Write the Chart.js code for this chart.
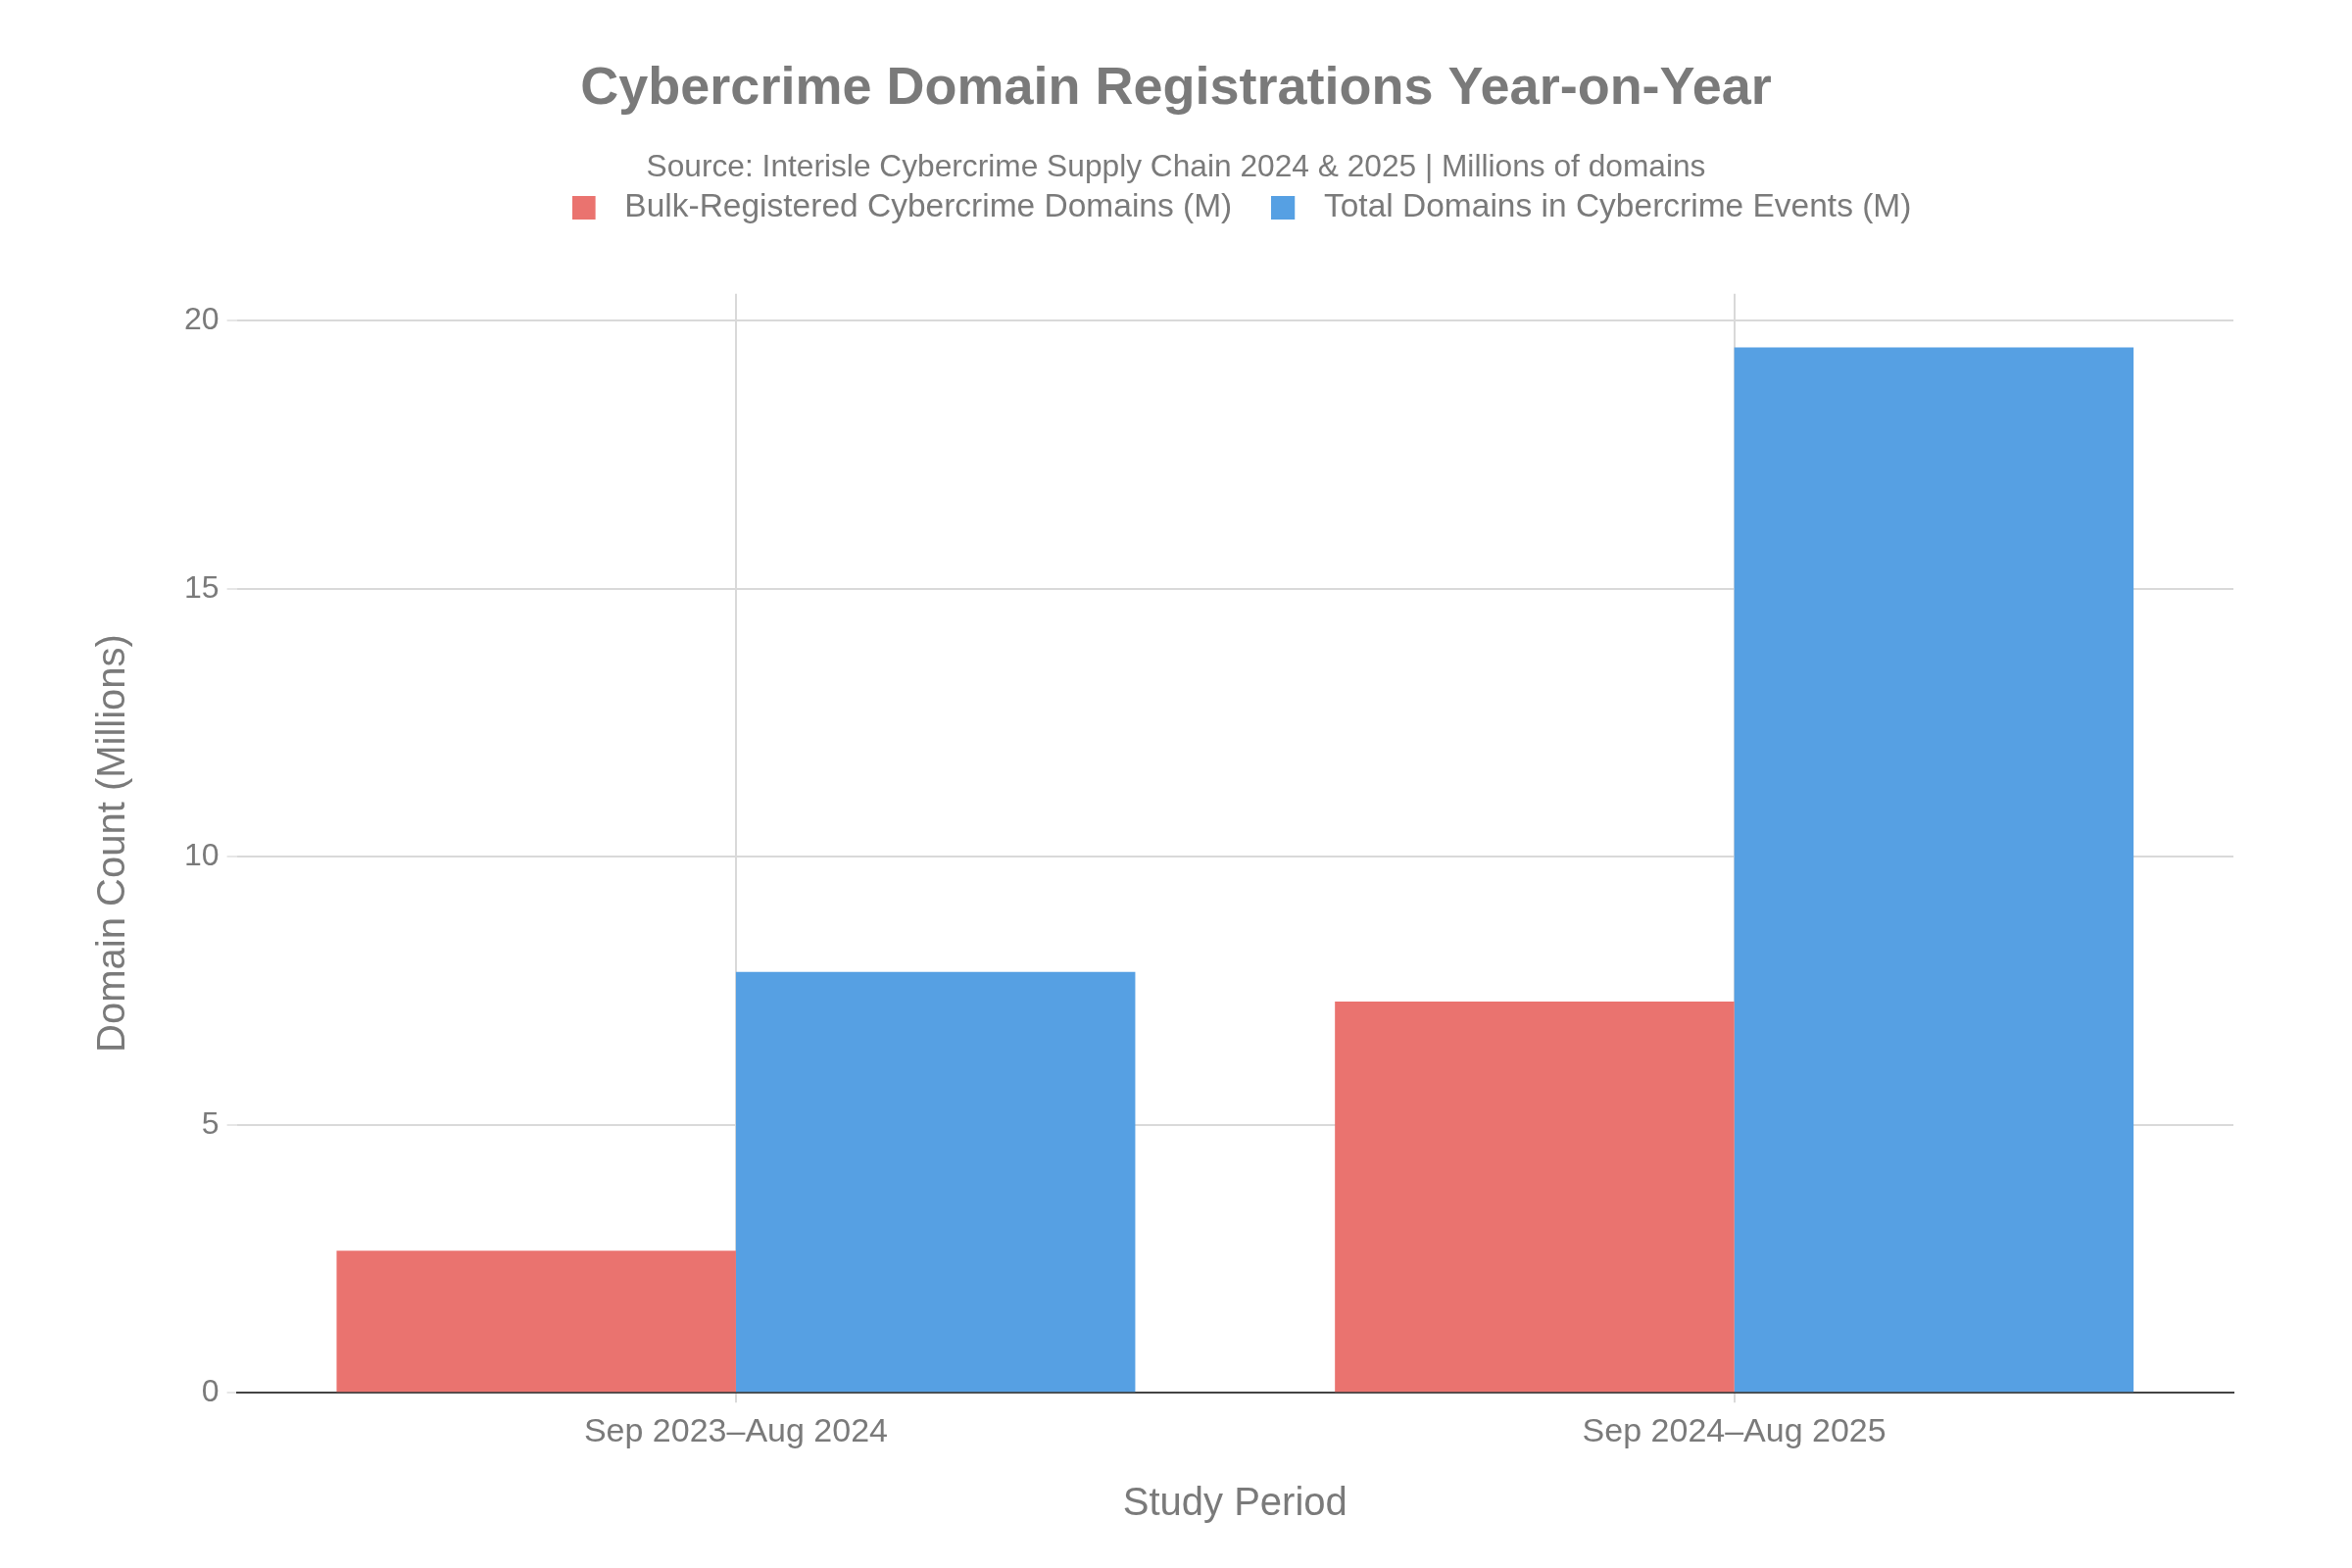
<!DOCTYPE html>
<html>
<head>
<meta charset="utf-8">
<title>Cybercrime Domain Registrations Year-on-Year</title>
<script src="https://cdn.jsdelivr.net/npm/chart.js@4"></script>
<style>
    html, body { margin: 0; padding: 0; background: #ffffff; }
    #wrap { width: 2400px; height: 1600px; }
</style>
</head>
<body>
<div id="wrap"><canvas id="domainChart" width="2400" height="1600"></canvas></div>
<script>
// Study periods (categories)
const periods = ['Sep 2023\u2013Aug 2024', 'Sep 2024\u2013Aug 2025'];
// Values in millions of domains
const bulkRegistered = [2.65, 7.3];
const totalDomains = [7.85, 19.5];
const seriesLabels = ['Bulk-Registered Cybercrime Domains (M)', 'Total Domains in Cybercrime Events (M)'];
const seriesColors = ['#EA736F', '#56A0E3'];
const yTicks = [0, 5, 10, 15, 20];

const FONT = "'Liberation Sans', Arial, sans-serif";
const TEXT = '#7a7a7a';

// legend marker: 24px square on the left of a wider transparent slot
function legendMark(color) {
    const c = document.createElement('canvas');
    c.width = 37;
    c.height = 24;
    const g = c.getContext('2d');
    g.fillStyle = color;
    g.fillRect(0, 0, 24, 24);
    return c;
}
const legendMarks = seriesColors.map(legendMark);

// extra room under the legend, then re-centre the header blocks
const headerLayout = {
    id: 'headerLayout',
    beforeInit(chart) {
        const fit = chart.legend.fit;
        chart.legend.fit = function () {
            fit.call(this);
            this.height += 61.5;
        };
    },
    afterLayout(chart) {
        chart.boxes.forEach(box => {
            if (box === chart.legend) {
                const w = box.right - box.left;
                box.left = 1267 - w / 2;
                box.right = 1267 + w / 2;
            } else if (box.position === 'top' && box.options && box.options.text !== undefined && !box.axis) {
                // title and subtitle centred on the page
                box.left = 0;
                box.right = chart.width;
            }
        });
    }
};

new Chart(document.getElementById('domainChart').getContext('2d'), {
    type: 'bar',
    data: {
        labels: periods,
        datasets: [
            {
                label: seriesLabels[0],
                data: bulkRegistered,
                backgroundColor: seriesColors[0],
                categoryPercentage: 0.8,
                barPercentage: 1.0
            },
            {
                label: seriesLabels[1],
                data: totalDomains,
                backgroundColor: seriesColors[1],
                categoryPercentage: 0.8,
                barPercentage: 1.0
            }
        ]
    },
    options: {
        responsive: false,
        animation: false,
        layout: {
            padding: { left: 92, right: 121, top: 0, bottom: 41 }
        },
        plugins: {
            title: {
                display: true,
                text: 'Cybercrime Domain Registrations Year-on-Year',
                color: TEXT,
                font: { family: FONT, size: 54, weight: 'bold', lineHeight: 1.2 },
                padding: { top: 59, bottom: 28.3 }
            },
            subtitle: {
                display: true,
                text: 'Source: Interisle Cybercrime Supply Chain 2024 & 2025 | Millions of domains',
                color: TEXT,
                font: { family: FONT, size: 31.7, lineHeight: 1.2 },
                padding: { top: 0, bottom: -35.3 }
            },
            legend: {
                display: true,
                position: 'top',
                labels: {
                    color: TEXT,
                    font: { family: FONT, size: 33.5 },
                    usePointStyle: true,
                    pointStyleWidth: 37,
                    boxHeight: 24,
                    padding: 40,
                    generateLabels(chart) {
                        const items = Chart.defaults.plugins.legend.labels.generateLabels(chart);
                        items.forEach((item, i) => { item.pointStyle = legendMarks[i]; });
                        return items;
                    }
                }
            },
            tooltip: { enabled: false }
        },
        scales: {
            x: {
                grid: {
                    offset: false,
                    color: '#d9d9d9',
                    lineWidth: 2,
                    tickLength: 10
                },
                border: { display: true, color: '#444444', width: 2 },
                ticks: {
                    color: TEXT,
                    font: { family: FONT, size: 34 },
                    padding: 10
                },
                title: {
                    display: true,
                    text: 'Study Period',
                    color: TEXT,
                    font: { family: FONT, size: 40, lineHeight: 1.2 },
                    padding: { top: 19, bottom: 0 }
                }
            },
            y: {
                min: 0,
                max: 20.5,
                afterBuildTicks(scale) {
                    scale.ticks = yTicks.map(v => ({ value: v }));
                },
                grid: {
                    color: ctx => (ctx.tick && ctx.tick.value === 0) ? '#444444' : '#d9d9d9',
                    lineWidth: 2,
                    tickLength: 10,
                    tickColor: '#e6e6e6'
                },
                border: { display: false },
                ticks: {
                    color: TEXT,
                    font: { family: FONT, size: 32 },
                    padding: 8
                },
                title: {
                    display: true,
                    text: 'Domain Count (Millions)',
                    color: TEXT,
                    font: { family: FONT, size: 40, lineHeight: 1.2 },
                    padding: { top: 0, bottom: 40 }
                }
            }
        }
    },
    plugins: [headerLayout]
});
</script>
</body>
</html>
